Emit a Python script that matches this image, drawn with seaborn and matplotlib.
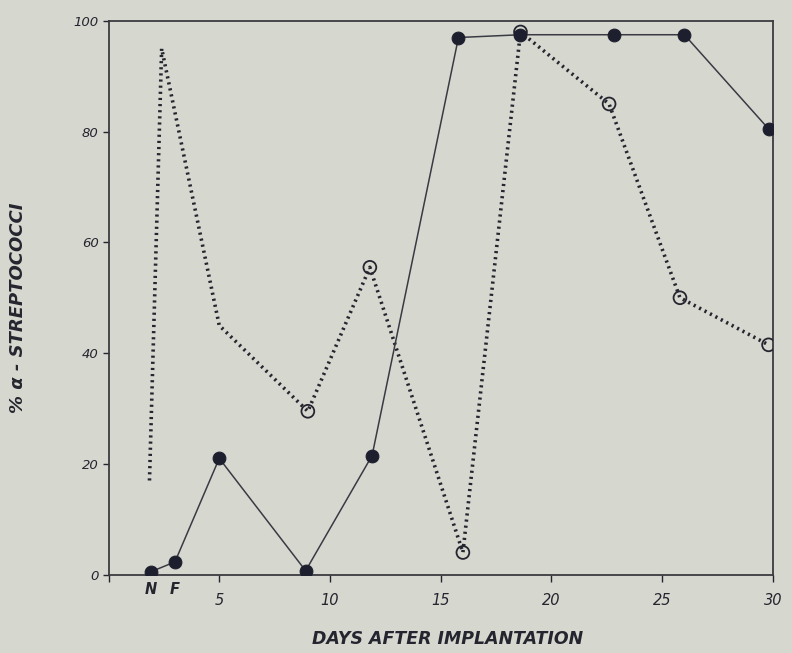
import matplotlib
matplotlib.use("Agg")
import matplotlib.pyplot as plt
import seaborn as sns
import pandas as pd

# Solid series (filled circles)
solid_days = [1.9, 3.0, 5.0, 8.9, 11.9, 15.8, 18.6, 22.8, 26.0, 29.8]
solid_vals = [0.5, 2.3, 21.0, 0.7, 21.5, 97.0, 97.5, 97.5, 97.5, 80.5]

# Dotted series (open circles)
dotted_days = [1.85, 2.4, 5.0, 9.0, 11.8, 16.0, 18.6, 22.6, 25.8, 29.8]
dotted_vals = [17.0, 95.0, 45.0, 29.5, 55.5, 4.0, 98.0, 85.0, 50.0, 41.5]
dotted_open = [False, False, False, True, True, True, True, True, True, True]

x_ticks = [0, 5, 10, 15, 20, 25, 30]
x_tick_labels = ["", "5", "10", "15", "20", "25", "30"]
nf_ticks = [1.9, 3.0]
nf_labels = ["N", "F"]
y_ticks = [0, 20, 40, 60, 80, 100]

sns.set_theme(style="white")
plt.rcParams["font.family"] = ["DejaVu Sans"]

bg = "#d6d8d0"
ink = "#25252f"

fig = plt.figure(figsize=(7.92, 6.53), dpi=100, facecolor=bg)
ax = fig.add_axes([0.137, 0.12, 0.839, 0.848])
ax.set_facecolor(bg)

solid = pd.DataFrame({"day": solid_days, "val": solid_vals})
dotted = pd.DataFrame({"day": dotted_days, "val": dotted_vals, "open": dotted_open})

sns.lineplot(data=dotted, x="day", y="val", ax=ax, color=ink, linestyle=(0, (0.6, 1.1)),
             linewidth=2.6, sort=False, estimator=None, zorder=2)
sns.lineplot(data=solid, x="day", y="val", ax=ax, color="#3a3a44", linewidth=1.1,
             sort=False, estimator=None, zorder=3)

op = dotted[dotted["open"]]
ax.scatter(op["day"], op["val"], s=85, facecolors="none", edgecolors=ink, linewidths=1.3, zorder=4)
sns.scatterplot(data=solid, x="day", y="val", ax=ax, color="#1e1f2e", s=85,
                edgecolor="#1e1f2e", zorder=5)

ax.set_xlim(0, 30)
ax.set_ylim(0, 100)
ax.set_xticks(x_ticks)
ax.set_xticklabels(x_tick_labels, fontsize=10.5, style="italic", color=ink)
ax.set_xticks(nf_ticks, minor=True)
ax.set_xticklabels(nf_labels, minor=True, fontsize=10.5, style="italic", fontweight="bold", color=ink)
ax.tick_params(axis="x", which="minor", length=0, pad=5)
ax.tick_params(axis="x", which="major", direction="out", length=5, width=1, colors=ink, pad=8,
               bottom=True)
ax.set_yticks(y_ticks)
ax.set_yticklabels([str(v) for v in y_ticks], fontsize=9.5, style="italic", color=ink)
ax.tick_params(axis="y", direction="out", length=4, width=1, colors=ink, pad=3, left=True)

for s in ax.spines.values():
    s.set_color("#3a3a40")
    s.set_linewidth(1.3)

ax.set_xlabel("DAYS AFTER IMPLANTATION", fontsize=12.5, style="italic", fontweight="bold",
              color=ink)
ax.xaxis.set_label_coords(0.51, -0.1)
ax.set_ylabel("% α - STREPTOCOCCI", fontsize=13, style="italic", fontweight="bold",
              color=ink)
ax.yaxis.set_label_coords(-0.123, 0.482)

fig.savefig("out.png", dpi=100, facecolor=bg)
